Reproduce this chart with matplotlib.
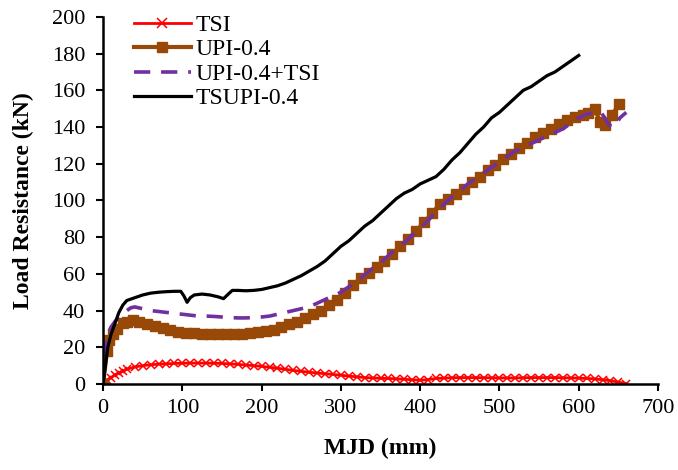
import matplotlib.pyplot as plt

plt.rcParams['font.family'] = ['Liberation Serif', 'DejaVu Serif']

# TSI
tsi_x = [0, 5, 10, 15, 20, 25, 30, 40, 50, 60, 70, 80, 90, 100, 110, 120, 130, 140, 150, 160,
         170, 180, 190, 200, 210, 220, 230, 240, 250, 260, 270, 280, 290, 300, 310, 320, 330,
         340, 350, 360, 370, 380, 390, 400, 410, 420, 430, 440, 450, 460, 470, 480, 490, 500,
         510, 520, 530, 540, 550, 560, 570, 580, 590, 600, 610, 620, 630, 640, 650, 660]
tsi_y = [0, 2, 3.5, 5, 6, 7, 8, 9.3, 10, 10.5, 10.8, 11, 11.2, 11.3, 11.4, 11.4, 11.4, 11.3,
         11.2, 11, 10.7, 10.3, 10, 9.6, 9.1, 8.6, 8, 7.4, 6.9, 6.4, 6, 5.6, 5.2, 4.8, 4.3, 3.9,
         3.5, 3.3, 3.1, 3, 2.8, 2.6, 2.3, 2, 2.4, 3, 3.2, 3.4, 3.5, 3.5, 3.5, 3.4, 3.4, 3.3,
         3.3, 3.3, 3.4, 3.5, 3.5, 3.5, 3.5, 3.4, 3.3, 3.2, 3, 2.8, 2.3, 1.8, 1, 0.2]

# UPI-0.4
upi_x = [0, 5, 8, 12, 18, 25, 30, 38, 45, 55, 65, 75, 85, 95, 105, 115, 125, 135, 145, 155,
         165, 175, 185, 195, 205, 215, 225, 235, 245, 255, 265, 275, 285, 295, 305, 315, 325,
         335, 345, 355, 365, 375, 385, 395, 405, 415, 425, 435, 445, 455, 465, 475, 485, 495,
         505, 515, 525, 535, 545, 555, 565, 575, 585, 595, 605, 612, 620, 627, 633, 642, 651]
upi_y = [0, 18, 24, 27, 30, 33, 34, 35, 34, 32.5, 31.5, 30.5, 29.5, 28.5, 28, 27.8, 27.5,
         27.2, 27, 27, 27, 27.2, 27.8, 28.3, 28.8, 29.5, 31, 32.5, 34, 36, 38, 40, 43, 46,
         49.5, 54, 57.5, 60.5, 63.5, 67, 71, 75, 79, 83.5, 88, 93, 98, 101, 103.5, 106.5,
         110, 113, 116.5, 119.5, 122.5, 125.5, 128.5, 131.5, 134.5, 137, 139, 141.5, 144,
         145.5, 146.5, 147.5, 150, 143, 141, 146.5, 152.5]

# UPI-0.4+TSI
sum_x = [0, 2, 5, 10, 15, 20, 25, 30, 35, 40, 50, 60, 70, 80, 90, 100, 110, 120, 130, 140,
         150, 160, 170, 180, 190, 200, 210, 220, 230, 240, 250, 260, 270, 280, 290, 300, 310,
         320, 330, 340, 350, 360, 370, 380, 390, 400, 410, 420, 430, 440, 450, 460, 470, 480,
         490, 500, 510, 520, 530, 540, 550, 560, 570, 580, 590, 600, 610, 620, 628, 633, 638,
         645, 652, 660]
sum_y = [0, 18, 26, 31, 34, 36.5, 38.5, 40, 41.5, 42, 41, 40, 39.5, 39, 38.5, 38, 37.5, 37,
         37, 36.8, 36.5, 36.2, 36, 36, 36.2, 36.5, 37, 38, 39, 40, 41, 42, 44, 46, 48, 50,
         53, 56, 59.5, 63, 66, 70, 74, 77, 81, 85, 89, 94, 98, 102, 105, 109, 112, 115, 118,
         121, 124, 127, 129, 131, 133, 135, 137, 139, 142, 145, 147, 148, 148, 145, 141, 140,
         145, 148]

# TSUPI-0.4
ts_x = [0, 3, 6, 10, 15, 20, 25, 30, 40, 50, 60, 70, 80, 90, 98, 102, 106, 110, 115, 125,
        135, 145, 152, 158, 163, 170, 180, 190, 200, 210, 220, 230, 240, 250, 260, 270, 280,
        290, 300, 310, 320, 330, 340, 350, 360, 370, 380, 390, 400, 410, 420, 430, 440, 450,
        460, 470, 480, 490, 500, 510, 520, 530, 540, 550, 560, 570, 580, 590, 600]
ts_y = [0, 10, 20, 27, 33, 39, 43, 45.5, 47, 48.5, 49.5, 50, 50.3, 50.5, 50.5, 48, 44.5, 47,
        48.5, 49, 48.5, 47.5, 46.5, 49, 51, 51, 50.8, 51, 51.5, 52.5, 53.5, 55, 57, 59, 61.5,
        64, 67, 71, 75, 78, 82, 86, 89, 93, 97, 101, 104, 106, 109, 111, 113, 117, 122, 126,
        131, 136, 140, 145, 148, 152, 156, 160, 162, 165, 168, 170, 173, 176, 179]

fig = plt.figure(figsize=(6.78, 4.70), dpi=100)
ax = fig.add_axes([0.152, 0.183, 0.8185, 0.781])

ax.plot(tsi_x, tsi_y, color='#FF0000', linewidth=2, marker='x', markersize=6,
        markeredgewidth=1.1, label='TSI')
ax.plot(upi_x, upi_y, color='#984807', linewidth=3, marker='s', markersize=7,
        label='UPI-0.4')
ax.plot(sum_x, sum_y, color='#7030A0', linewidth=2.6, linestyle=(0, (4.5, 3)),
        label='UPI-0.4+TSI')
ax.plot(ts_x, ts_y, color='black', linewidth=2.3, label='TSUPI-0.4')

ax.set_xlim(0, 700)
ax.set_ylim(0, 200)
ax.set_xticks(range(0, 701, 100))
ax.set_yticks(range(0, 201, 20))

for spine in ['top', 'right']:
    ax.spines[spine].set_visible(False)
for spine in ['left', 'bottom']:
    ax.spines[spine].set_linewidth(1.8)
ax.tick_params(direction='out', width=1.5, length=5, labelsize=16)
ax.tick_params(axis='x', pad=6)
ax.tick_params(axis='y', pad=8)

ax.set_xlabel('MJD (mm)', fontsize=17, fontweight='bold', labelpad=14)
ax.set_ylabel('Load Resistance (kN)', fontsize=17, fontweight='bold', labelpad=13)

legend = ax.legend(loc='upper left', bbox_to_anchor=(0.03, 1.045), fontsize=17,
                   frameon=False, handlelength=2.4, handletextpad=0.2,
                   labelspacing=0.12, borderaxespad=0.2, markerscale=1.1)

fig.savefig('out.png', dpi=100)
